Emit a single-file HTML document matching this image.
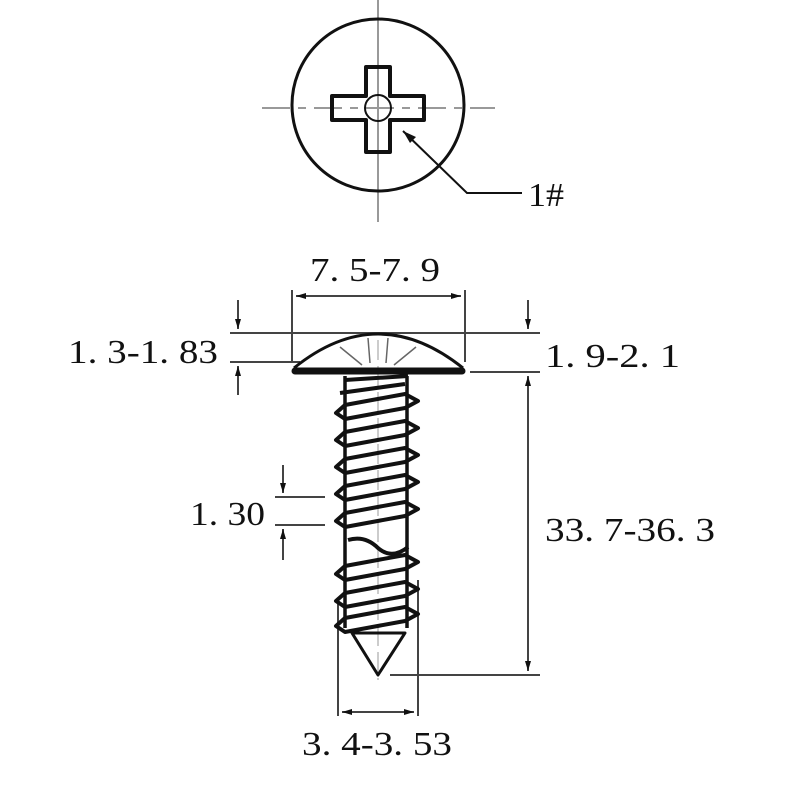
<!DOCTYPE html>
<html><head><meta charset="utf-8"><style>body{margin:0;background:#fff}svg{display:block}text{font-family:"Liberation Serif",serif;font-size:34px;fill:#111}</style></head>
<body><svg width="800" height="800" viewBox="0 0 800 800" xmlns="http://www.w3.org/2000/svg">
<defs><marker id="a" viewBox="0 0 10 10" refX="10" refY="5" markerWidth="5" markerHeight="5" orient="auto-start-reverse"><path d="M0,2 L10,5 L0,8z" fill="#111"/></marker></defs>
<g stroke="#999" stroke-width="2" fill="none">
<line x1="378" y1="0" x2="378" y2="222"/>
<line x1="262" y1="108" x2="495" y2="108" stroke-dasharray="28,8,8,8"/>
<line x1="378" y1="340" x2="378" y2="680" stroke="#ccc" stroke-dasharray="20,6"/>
</g>
<g stroke="#111" fill="none">
<circle cx="378" cy="105" r="86" stroke-width="3"/>
<path d="M366,67 H390 V96 H424 V120 H390 V152 H366 V120 H332 V96 H366 Z" stroke-width="4" stroke-linejoin="round"/>
<circle cx="378" cy="108" r="13" stroke-width="2"/>
<polyline points="403,131 467,193 522,193" stroke-width="2"/>
</g>
<path d="M403,131 L416,137 L410,143z" fill="#111"/>
<text x="528" y="206" textLength="36" lengthAdjust="spacingAndGlyphs">1#</text>
<g stroke="#444" stroke-width="2" fill="none">
<line x1="292" y1="290" x2="292" y2="362"/><line x1="465" y1="290" x2="465" y2="362"/>
<line x1="296" y1="296" x2="461" y2="296" marker-start="url(#a)" marker-end="url(#a)"/>
<line x1="230" y1="333" x2="540" y2="333"/><line x1="230" y1="362" x2="300" y2="362"/>
<line x1="238" y1="300" x2="238" y2="329" marker-end="url(#a)"/><line x1="238" y1="395" x2="238" y2="366" marker-end="url(#a)"/>
<line x1="470" y1="372" x2="540" y2="372"/><line x1="390" y1="675" x2="540" y2="675"/>
<line x1="528" y1="300" x2="528" y2="329" marker-end="url(#a)"/><line x1="528" y1="376" x2="528" y2="671" marker-start="url(#a)" marker-end="url(#a)"/>
<line x1="275" y1="497" x2="325" y2="497"/><line x1="275" y1="525" x2="325" y2="525"/>
<line x1="283" y1="465" x2="283" y2="493" marker-end="url(#a)"/><line x1="283" y1="560" x2="283" y2="529" marker-end="url(#a)"/>
<line x1="338" y1="600" x2="338" y2="716"/><line x1="418" y1="580" x2="418" y2="716"/>
<line x1="342" y1="712" x2="414" y2="712" marker-start="url(#a)" marker-end="url(#a)"/>
</g>
<g stroke="#111" fill="none" stroke-linejoin="round">
<path d="M294,368 Q378,300 463,368" stroke-width="3"/>
<line x1="295" y1="371" x2="462" y2="371" stroke-width="7" stroke-linecap="round"/>
<path d="M340,347 L362,365 M416,347 L394,365 M368,338 L370,363 M388,338 L386,363" stroke-width="1.5" stroke="#666"/>
<path d="M345,376 V628 M407,376 V628" stroke-width="3.5"/>
<path d="M352,633 L405,633 L378,675 Z" stroke-width="3"/>
<g stroke-width="4">
<path d="M345,380 L408,376 M340,393 L405,384"/>
<path d="M345,405 L336,413 L345,419 L405,408 L418,401 L405,394 Z"/>
<path d="M345,432 L336,440 L345,446 L405,435 L418,428 L405,421 Z"/>
<path d="M345,459 L336,467 L345,473 L405,462 L418,455 L405,448 Z"/>
<path d="M345,486 L336,494 L345,500 L405,489 L418,482 L405,475 Z"/>
<path d="M345,513 L336,521 L345,527 L405,516 L418,509 L405,502 Z"/>
<path d="M348,540 Q365,535 378,548 Q392,560 408,547" stroke-width="4"/>
<path d="M345,566 L336,574 L345,580 L405,569 L418,562 L405,555 Z"/>
<path d="M345,593 L336,601 L345,607 L405,596 L418,589 L405,582 Z"/>
<path d="M345,618 L336,626 L345,632 L405,621 L418,614 L405,607 Z"/>
</g>
</g>
<text x="310" y="281" textLength="130" lengthAdjust="spacingAndGlyphs">7. 5-7. 9</text>
<text x="68" y="363" textLength="150" lengthAdjust="spacingAndGlyphs">1. 3-1. 83</text>
<text x="545" y="367" textLength="135" lengthAdjust="spacingAndGlyphs">1. 9-2. 1</text>
<text x="190" y="525" textLength="75" lengthAdjust="spacingAndGlyphs">1. 30</text>
<text x="545" y="541" textLength="170" lengthAdjust="spacingAndGlyphs">33. 7-36. 3</text>
<text x="302" y="755" textLength="150" lengthAdjust="spacingAndGlyphs">3. 4-3. 53</text>
</svg></body></html>
